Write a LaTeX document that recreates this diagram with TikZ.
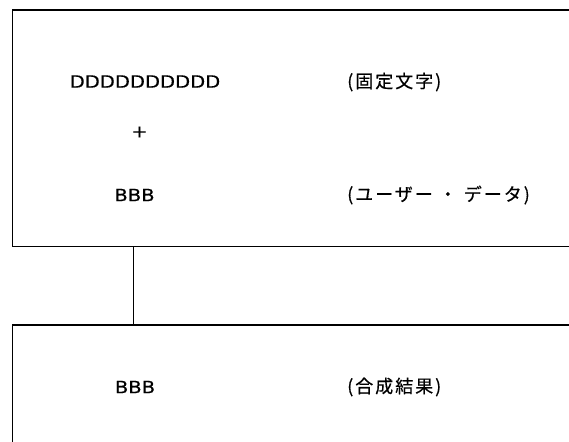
\documentclass[tikz,border=0pt]{standalone}
\usepackage{fontspec}
\setmainfont{DejaVu Sans}
\newfontfamily\latfont[FakeStretch=1.15,FakeBold=0.5]{DejaVu Sans}
\newfontfamily\jpfont[LetterSpace=11,FakeBold=0.5]{Noto Sans CJK JP}
\begin{document}
\begin{tikzpicture}[x=1pt,y=-1pt,
  box/.style={draw=black, line width=1.4pt, inner sep=0pt},
  lat/.style={font=\latfont\fontsize{17}{17}\selectfont, inner sep=0pt},
  jp/.style={font=\jpfont\fontsize{18}{18}\selectfont, inner sep=0pt, anchor=west}]
\useasboundingbox (0,0) rectangle (569,441);
% boxes extend beyond the page edge (cut off as in the reference)
\node[box, minimum width=600pt, minimum height=236pt, anchor=north west] (top) at (12,9.5) {};
\node[box, minimum width=600pt, minimum height=150pt, anchor=north west] (bot) at (12,324.3) {};
% texts
\node[lat] (d) at (145,81.5) {DDDDDDDDDD};
\node[lat] (plus) at (139.5,132) {+};
\node[lat] (b1) at (134.5,195) {BBB};
\node[lat] (b2) at (135,387) {BBB};
\node[jp] (fixed) at (347,82) {(固定文字)};
\node[jp] (user) at (347,195) {(ユーザー\hspace{6pt}・\hspace{7pt}データ)};
\node[jp] (res) at (347,387) {(合成結果)};
% connector
\draw[line width=1.2pt] (top.south -| 133.5,0) -- (bot.north -| 133.5,0);
\end{tikzpicture}
\end{document}
